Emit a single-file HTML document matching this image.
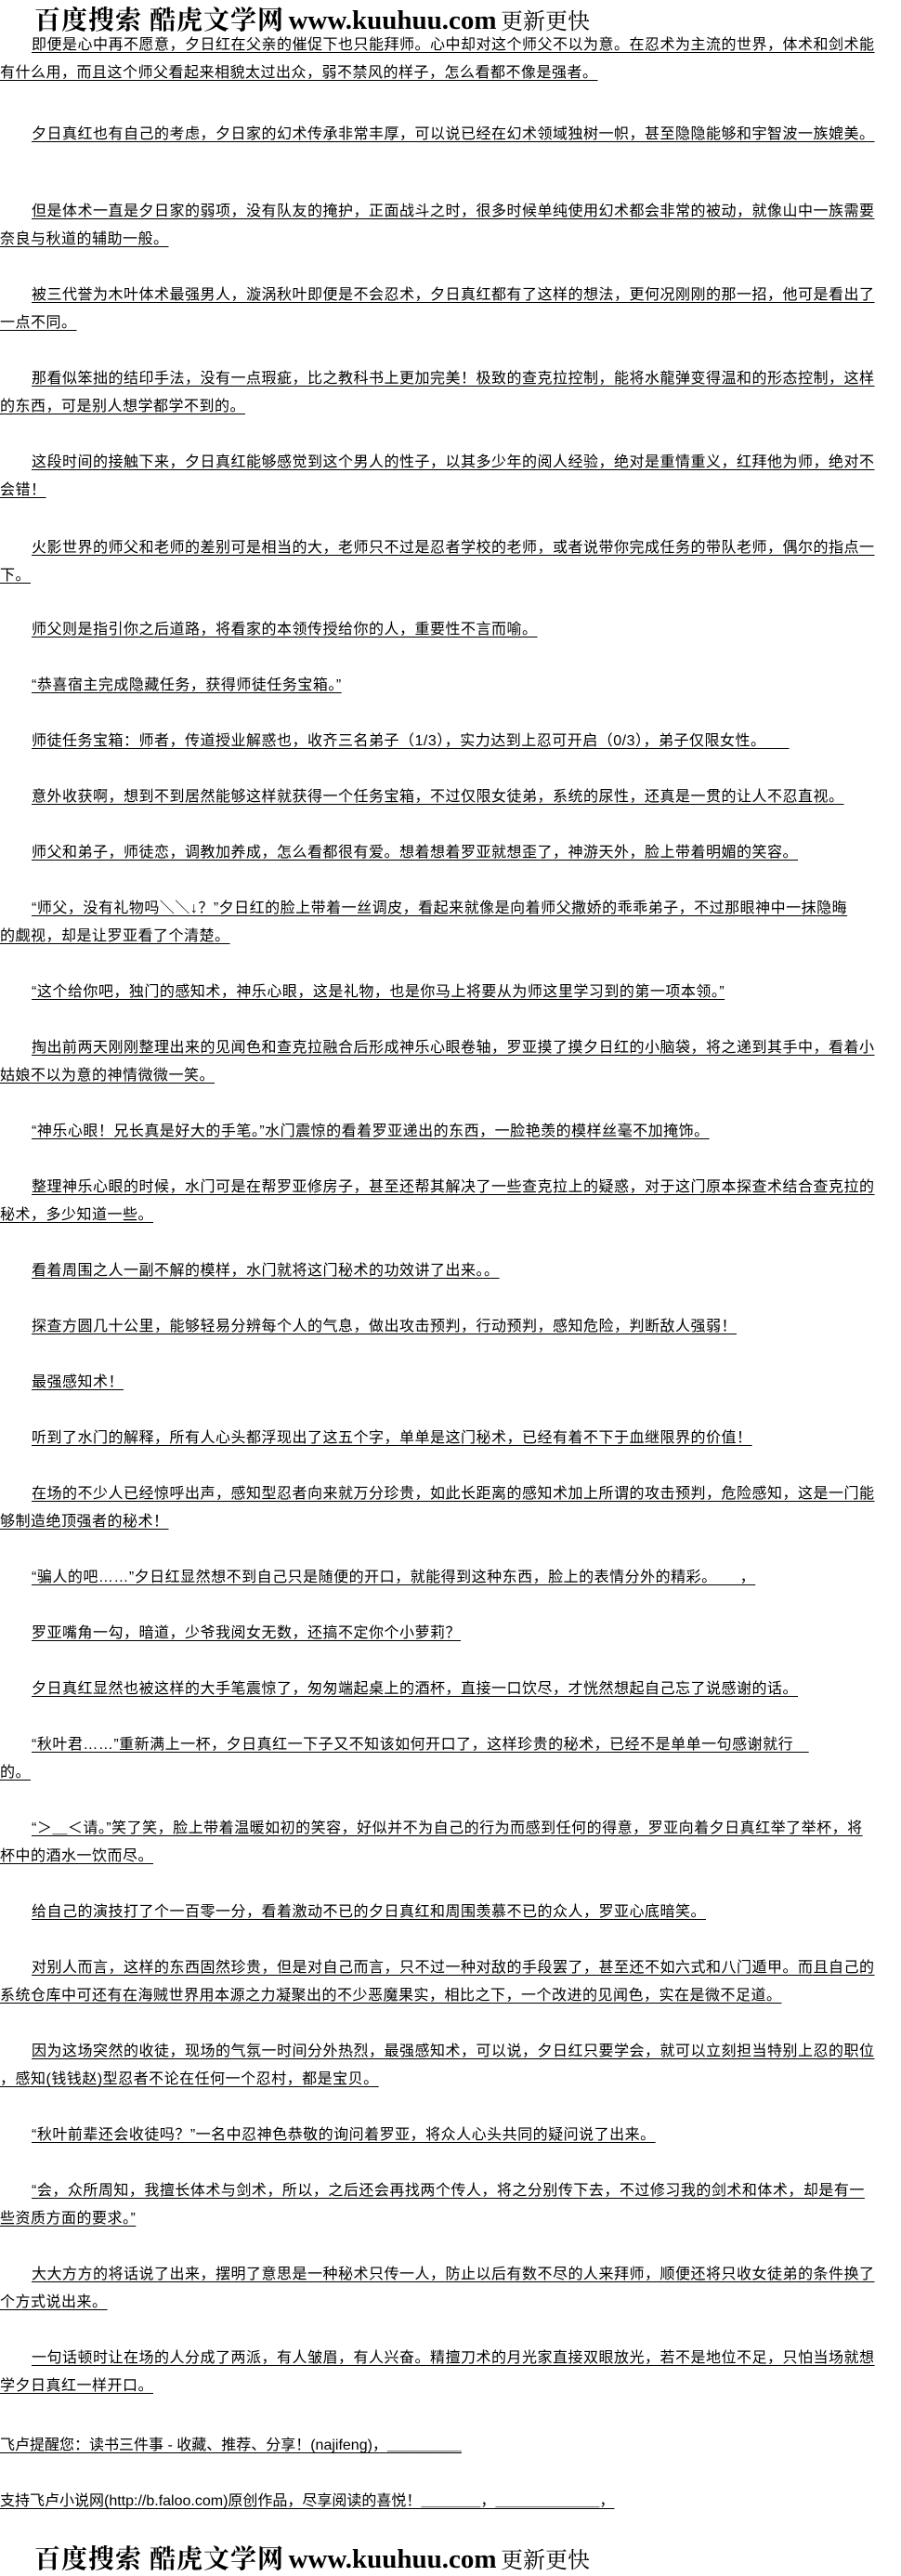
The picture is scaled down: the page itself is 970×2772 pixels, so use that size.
<!DOCTYPE html>
<html><head><meta charset="utf-8">
<style>
html,body{margin:0;padding:0;background:#fff;}
body{width:970px;height:2770px;position:relative;overflow:hidden;color:#000;
font-family:"Liberation Sans","WenQuanYi Zen Hei","Noto Sans CJK SC",sans-serif;font-size:16px;}
.p{position:absolute;left:0;line-height:30px;white-space:nowrap;letter-spacing:0.5px;}
.p div{height:30px;}
.p div span{text-decoration:underline;text-underline-offset:3px;}
.p div.f{padding-left:34px;}
.hd{position:absolute;left:37px;height:30px;white-space:nowrap;font-weight:bold;}
.hd .c{font-family:"Liberation Serif","Noto Serif CJK SC",serif;font-size:28px;letter-spacing:1px;}
.hd .l{font-family:"Liberation Serif",serif;font-size:29px;}
.hd .s{font-family:"Liberation Serif","Noto Serif CJK SC",serif;font-size:24px;font-weight:normal;}
</style></head><body>

<div class="hd" style="top:0px"><span class="c">百度搜索 酷虎文学网</span> <span class="l">www.kuuhuu.com</span> <span class="s">更新更快</span></div>

<div class="p" style="top:34px"><div class="f"><span>即便是心中再不愿意，夕日红在父亲的催促下也只能拜师。心中却对这个师父不以为意。在忍术为主流的世界，体术和剑术能</span></div><div><span>有什么用，而且这个师父看起来相貌太过出众，弱不禁风的样子，怎么看都不像是强者。</span></div></div>

<div class="p" style="top:130px"><div class="f"><span>夕日真红也有自己的考虑，夕日家的幻术传承非常丰厚，可以说已经在幻术领域独树一帜，甚至隐隐能够和宇智波一族媲美。</span></div></div>

<div class="p" style="top:213px"><div class="f"><span>但是体术一直是夕日家的弱项，没有队友的掩护，正面战斗之时，很多时候单纯使用幻术都会非常的被动，就像山中一族需要</span></div><div><span>奈良与秋道的辅助一般。</span></div></div>

<div class="p" style="top:303px"><div class="f"><span>被三代誉为木叶体术最强男人，漩涡秋叶即便是不会忍术，夕日真红都有了这样的想法，更何况刚刚的那一招，他可是看出了</span></div><div><span>一点不同。</span></div></div>

<div class="p" style="top:393px"><div class="f"><span>那看似笨拙的结印手法，没有一点瑕疵，比之教科书上更加完美！极致的查克拉控制，能将水龍弹变得温和的形态控制，这样</span></div><div><span>的东西，可是别人想学都学不到的。</span></div></div>

<div class="p" style="top:483px"><div class="f"><span>这段时间的接触下来，夕日真红能够感觉到这个男人的性子，以其多少年的阅人经验，绝对是重情重义，红拜他为师，绝对不</span></div><div><span>会错！</span></div></div>

<div class="p" style="top:575px"><div class="f"><span>火影世界的师父和老师的差别可是相当的大，老师只不过是忍者学校的老师，或者说带你完成任务的带队老师，偶尔的指点一</span></div><div><span>下。</span></div></div>

<div class="p" style="top:663px"><div class="f"><span>师父则是指引你之后道路，将看家的本领传授给你的人，重要性不言而喻。</span></div></div>

<div class="p" style="top:723px"><div class="f"><span>“恭喜宿主完成隐藏任务，获得师徒任务宝箱。”</span></div></div>

<div class="p" style="top:783px"><div class="f"><span>师徒任务宝箱：师者，传道授业解惑也，收齐三名弟子（1/3），实力达到上忍可开启（0/3），弟子仅限女性。　　</span></div></div>

<div class="p" style="top:843px"><div class="f"><span>意外收获啊，想到不到居然能够这样就获得一个任务宝箱，不过仅限女徒弟，系统的尿性，还真是一贯的让人不忍直视。</span></div></div>

<div class="p" style="top:903px"><div class="f"><span>师父和弟子，师徒恋，调教加养成，怎么看都很有爱。想着想着罗亚就想歪了，神游天外，脸上带着明媚的笑容。</span></div></div>

<div class="p" style="top:963px"><div class="f"><span>“师父，没有礼物吗＼＼↓？”夕日红的脸上带着一丝调皮，看起来就像是向着师父撒娇的乖乖弟子，不过那眼神中一抹隐晦</span></div><div><span>的觑视，却是让罗亚看了个清楚。</span></div></div>

<div class="p" style="top:1053px"><div class="f"><span>“这个给你吧，独门的感知术，神乐心眼，这是礼物，也是你马上将要从为师这里学习到的第一项本领。”</span></div></div>

<div class="p" style="top:1113px"><div class="f"><span>掏出前两天刚刚整理出来的见闻色和查克拉融合后形成神乐心眼卷轴，罗亚摸了摸夕日红的小脑袋，将之递到其手中，看着小</span></div><div><span>姑娘不以为意的神情微微一笑。</span></div></div>

<div class="p" style="top:1203px"><div class="f"><span>“神乐心眼！兄长真是好大的手笔。”水门震惊的看着罗亚递出的东西，一脸艳羡的模样丝毫不加掩饰。</span></div></div>

<div class="p" style="top:1263px"><div class="f"><span>整理神乐心眼的时候，水门可是在帮罗亚修房子，甚至还帮其解决了一些查克拉上的疑惑，对于这门原本探查术结合查克拉的</span></div><div><span>秘术，多少知道一些。</span></div></div>

<div class="p" style="top:1353px"><div class="f"><span>看着周围之人一副不解的模样，水门就将这门秘术的功效讲了出来。。</span></div></div>

<div class="p" style="top:1413px"><div class="f"><span>探查方圆几十公里，能够轻易分辨每个人的气息，做出攻击预判，行动预判，感知危险，判断敌人强弱！</span></div></div>

<div class="p" style="top:1473px"><div class="f"><span>最强感知术！</span></div></div>

<div class="p" style="top:1533px"><div class="f"><span>听到了水门的解释，所有人心头都浮现出了这五个字，单单是这门秘术，已经有着不下于血继限界的价值！</span></div></div>

<div class="p" style="top:1593px"><div class="f"><span>在场的不少人已经惊呼出声，感知型忍者向来就万分珍贵，如此长距离的感知术加上所谓的攻击预判，危险感知，这是一门能</span></div><div><span>够制造绝顶强者的秘术！</span></div></div>

<div class="p" style="top:1683px"><div class="f"><span>“骗人的吧……”夕日红显然想不到自己只是随便的开口，就能得到这种东西，脸上的表情分外的精彩。　　，</span></div></div>

<div class="p" style="top:1743px"><div class="f"><span>罗亚嘴角一勾，暗道，少爷我阅女无数，还搞不定你个小萝莉？</span></div></div>

<div class="p" style="top:1803px"><div class="f"><span>夕日真红显然也被这样的大手笔震惊了，匆匆端起桌上的酒杯，直接一口饮尽，才恍然想起自己忘了说感谢的话。</span></div></div>

<div class="p" style="top:1863px"><div class="f"><span>“秋叶君……”重新满上一杯，夕日真红一下子又不知该如何开口了，这样珍贵的秘术，已经不是单单一句感谢就行　</span></div><div><span>的。</span></div></div>

<div class="p" style="top:1953px"><div class="f"><span>“＞＿＜请。”笑了笑，脸上带着温暖如初的笑容，好似并不为自己的行为而感到任何的得意，罗亚向着夕日真红举了举杯，将</span></div><div><span>杯中的酒水一饮而尽。</span></div></div>

<div class="p" style="top:2043px"><div class="f"><span>给自己的演技打了个一百零一分，看着激动不已的夕日真红和周围羡慕不已的众人，罗亚心底暗笑。</span></div></div>

<div class="p" style="top:2103px"><div class="f"><span>对别人而言，这样的东西固然珍贵，但是对自己而言，只不过一种对敌的手段罢了，甚至还不如六式和八门遁甲。而且自己的</span></div><div><span>系统仓库中可还有在海贼世界用本源之力凝聚出的不少恶魔果实，相比之下，一个改进的见闻色，实在是微不足道。</span></div></div>

<div class="p" style="top:2193px"><div class="f"><span>因为这场突然的收徒，现场的气氛一时间分外热烈，最强感知术，可以说，夕日红只要学会，就可以立刻担当特别上忍的职位</span></div><div><span>，感知(钱钱赵)型忍者不论在任何一个忍村，都是宝贝。</span></div></div>

<div class="p" style="top:2283px"><div class="f"><span>“秋叶前辈还会收徒吗？”一名中忍神色恭敬的询问着罗亚，将众人心头共同的疑问说了出来。</span></div></div>

<div class="p" style="top:2343px"><div class="f"><span>“会，众所周知，我擅长体术与剑术，所以，之后还会再找两个传人，将之分别传下去，不过修习我的剑术和体术，却是有一</span></div><div><span>些资质方面的要求。”</span></div></div>

<div class="p" style="top:2433px"><div class="f"><span>大大方方的将话说了出来，摆明了意思是一种秘术只传一人，防止以后有数不尽的人来拜师，顺便还将只收女徒弟的条件换了</span></div><div><span>个方式说出来。</span></div></div>

<div class="p" style="top:2523px"><div class="f"><span>一句话顿时让在场的人分成了两派，有人皱眉，有人兴奋。精擅刀术的月光家直接双眼放光，若不是地位不足，只怕当场就想</span></div><div><span>学夕日真红一样开口。</span></div></div>

<div class="p" style="top:2617px;letter-spacing:0"><div><span>飞卢提醒您：读书三件事 - 收藏、推荐、分享！(najifeng)，＿＿＿＿＿</span></div></div>

<div class="p" style="top:2677px;letter-spacing:0"><div><span>支持飞卢小说网(http://b.faloo.com)原创作品，尽享阅读的喜悦！＿＿＿＿，＿＿＿＿＿＿＿，</span></div></div>

<div class="hd" style="top:2732px"><span class="c">百度搜索 酷虎文学网</span> <span class="l">www.kuuhuu.com</span> <span class="s">更新更快</span></div>

</body></html>
